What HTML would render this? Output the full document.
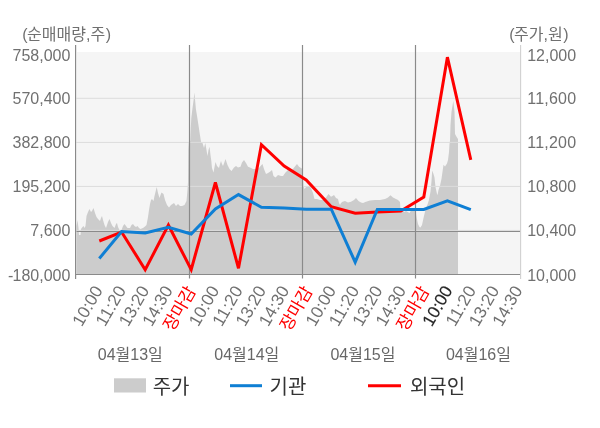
<!DOCTYPE html>
<html lang="ko"><head><meta charset="utf-8"><title>chart</title>
<style>html,body{margin:0;padding:0;background:#fff}body{width:600px;height:428px;overflow:hidden;font-family:"Liberation Sans",sans-serif}svg{display:block;will-change:transform}</style>
</head><body>
<svg width="600" height="428" viewBox="0 0 600 428" font-family="'Liberation Sans', 'Noto Sans CJK KR', sans-serif">
<rect width="600" height="428" fill="#fff"/>
<rect x="76.9" y="52" width="443.6" height="222.5" fill="#f5f5f5"/>
<path d="M76.5 274.5 L76.5 226 L77.5 220 L78.5 228 L79 235 L80.5 235 L81 229 L82.5 227 L83.5 226 L84.5 228 L85.5 226 L86.5 216 L88 212 L89.5 209 L91 212 L92 211 L93.5 208 L95 213 L96.5 217 L98 219 L100 221 L101 218 L102 216 L103 220 L104.5 225 L106 228 L108 222 L109.5 219 L111 223 L112.5 226 L114.5 228 L116 224 L117 223 L118 227 L119.5 230 L121.5 230 L123 226 L124.5 224 L126 226 L127.5 228 L130 228 L131.5 225 L133 224 L134.5 226 L136 227 L137.5 226 L139 228 L140.5 229 L143 228 L145 226.5 L146.5 225 L148 217 L149 210 L150 204 L151 200 L152 199 L153.5 201 L154.5 196 L155.5 192 L156.7 187 L158 193 L159.5 198 L160.5 195 L161.5 192.5 L163.5 194 L165 200 L167 205 L169 207.5 L171 205 L172.5 204 L174 203 L176 206 L178 204 L180 206 L182 206 L184.5 205 L186.5 201 L187.5 190 L188 182 L188.3 150 L188.8 143 L190.3 141 L190.8 128 L191.3 118 L192.4 109 L193.6 100 L194.4 92.5 L195.1 100 L195.9 109 L197.4 118.3 L198.6 126 L199.7 133.5 L200.9 141 L201.3 143 L202.5 143 L204 148 L205.3 143 L206.5 150 L207.5 156 L208.5 150 L209.5 146.7 L210.5 155 L211.2 160 L212 168 L213.5 172.5 L214.5 167 L215.5 162 L217 166 L219 168 L220 164 L221 161 L222 164 L223 166 L224.5 162 L225.5 159 L226.5 162 L227.5 165 L229.5 169 L231.5 171 L234 167.5 L236 166 L238 167.5 L240.5 166.7 L242 162.5 L244 160 L246 163 L248 166.7 L250 167.5 L253 169 L256 169 L259 168 L261 165.5 L262.5 164 L264 169 L266 174 L268 173 L270 171.7 L272 170 L273.5 176 L275.5 177.5 L278 175 L281 176 L283 176 L285.5 172.5 L288 170 L291 171 L293 169 L294.5 167 L297 164 L299 166.7 L301 168 L302.5 169 L303.5 186 L304.5 189 L306 187 L309 186 L311 188 L313 193 L314.5 199 L317 199 L320 200 L323 200 L326 197.5 L328.5 194 L331 196.7 L332.5 196 L334 195 L336 198 L338 199 L339 203 L340 205 L341 203 L342.5 201.7 L345 201 L348 202.5 L351 201.7 L354 200 L356 198 L358.5 201 L361 202.5 L363 203 L366 201.7 L370 200.5 L375 200 L380 200 L385 199 L388 197.5 L390.5 195.3 L393 197.5 L396 199 L398 200 L400 202 L400.5 210 L402 210 L404 212 L406 211 L409.5 213 L411 210.5 L413 210 L415.5 209.5 L416.5 217 L418 224 L419.5 227 L420.5 227.5 L422 225 L423.5 218 L425 211.7 L426 208 L427.5 204.4 L429 199.7 L430.5 191.5 L431.5 181 L432.2 170.5 L433.5 174 L434.5 177.5 L435.5 187 L437 194 L437.5 195 L438.5 190 L440 185.7 L441.5 178.7 L442.5 171.7 L443.5 164.7 L445 166.4 L447 163.5 L448 160 L449 152 L449.5 144 L450 141 L450.5 125 L451.5 111.7 L453.3 100.8 L454.5 111.7 L455 134 L456.5 136.7 L458 139 L458 274.5 Z" fill="#cccccc"/>
<line x1="76.5" x2="520.5" y1="98.3" y2="98.3" stroke="#dcdcdc" stroke-width="1"/>
<line x1="76.5" x2="520.5" y1="142.4" y2="142.4" stroke="#dcdcdc" stroke-width="1"/>
<line x1="76.5" x2="520.5" y1="186.4" y2="186.4" stroke="#dcdcdc" stroke-width="1"/>
<line x1="76.5" x2="520.5" y1="230.4" y2="230.4" stroke="#dcdcdc" stroke-width="1"/>
<line x1="76.5" x2="520.5" y1="231.5" y2="231.5" stroke="#8a8a8a" stroke-width="1.1"/>
<line x1="76.0" x2="520.5" y1="274.5" y2="274.5" stroke="#8a8a8a" stroke-width="1.2"/>
<line x1="189.5" x2="189.5" y1="45" y2="278.5" stroke="#8a8a8a" stroke-width="1.2"/>
<line x1="302.5" x2="302.5" y1="45" y2="278.5" stroke="#8a8a8a" stroke-width="1.2"/>
<line x1="415.5" x2="415.5" y1="45" y2="278.5" stroke="#8a8a8a" stroke-width="1.2"/>
<line x1="75.6" x2="75.6" y1="45" y2="279" stroke="#8a8a8a" stroke-width="1.2"/>
<line x1="520.6" x2="520.6" y1="45" y2="279" stroke="#d0d0d0" stroke-width="1.1"/>
<polyline points="99.3,241.0 121.6,232.0 145.2,269.7 168.4,225.1 191.2,269.6 215.4,182.5 238.5,268.3 261.4,144.7 284.2,166.0 306.2,180.0 331.3,206.7 355.2,213.3 377.3,212.0 400.8,211.0 423.8,197.0 447.4,57.2 470.8,159.8" fill="none" stroke="#ff0000" stroke-width="3" stroke-linejoin="miter" stroke-miterlimit="3.5"/>
<polyline points="99.3,258.5 121.6,231.5 145.2,233.0 168.4,227.3 191.2,234.0 215.4,209.0 238.5,194.6 261.4,207.2 284.2,208.0 306.2,209.2 331.3,209.2 355.2,262.2 377.3,209.5 400.8,209.5 423.8,209.5 447.4,200.8 470.8,209.6" fill="none" stroke="#0f7fd4" stroke-width="3" stroke-linejoin="miter" stroke-miterlimit="3.5"/>
<g font-size="16" fill="#707070" ><text x="12.57" y="61.20" textLength="57.73" lengthAdjust="spacing">758,000</text></g>
<g font-size="16" fill="#707070" ><text x="12.57" y="104.30" textLength="57.73" lengthAdjust="spacing">570,400</text></g>
<g font-size="16" fill="#707070" ><text x="12.57" y="148.40" textLength="57.73" lengthAdjust="spacing">382,800</text></g>
<g font-size="16" fill="#707070" ><text x="12.57" y="192.40" textLength="57.73" lengthAdjust="spacing">195,200</text></g>
<g font-size="16" fill="#707070" ><text x="30.33" y="236.20" textLength="39.97" lengthAdjust="spacing">7,600</text></g>
<g font-size="16" fill="#707070" ><text x="8.02" y="281.40">-</text><text x="12.57" y="281.40" textLength="57.73" lengthAdjust="spacing">180,000</text></g>
<g font-size="16" fill="#707070" ><text x="527.20" y="60.50" textLength="48.85" lengthAdjust="spacing">12,000</text></g>
<g font-size="16" fill="#707070" ><text x="527.20" y="103.70" textLength="48.85" lengthAdjust="spacing">11,600</text></g>
<g font-size="16" fill="#707070" ><text x="527.20" y="147.90" textLength="48.85" lengthAdjust="spacing">11,200</text></g>
<g font-size="16" fill="#707070" ><text x="527.20" y="192.10" textLength="48.85" lengthAdjust="spacing">10,800</text></g>
<g font-size="16" fill="#707070" ><text x="527.20" y="235.90" textLength="48.85" lengthAdjust="spacing">10,400</text></g>
<g font-size="16" fill="#707070" ><text x="527.20" y="280.70" textLength="48.85" lengthAdjust="spacing">10,000</text></g>
<g font-size="16" fill="#707070" ><text x="22.30" y="39.90">(</text><text x="27.11" y="39.90" textLength="58.88" lengthAdjust="spacing">순매매량</text><text x="85.99" y="39.90">,</text><text x="90.44" y="39.90">주</text><text x="105.76" y="39.90">)</text></g>
<g font-size="16" fill="#707070" ><text x="509.30" y="39.90">(</text><text x="514.11" y="39.90" textLength="29.44" lengthAdjust="spacing">주가</text><text x="543.55" y="39.90">,</text><text x="548.00" y="39.90">원</text><text x="563.32" y="39.90">)</text></g>
<g font-size="17.2" fill="#707070" transform="translate(103.18 290.30) rotate(-60)"><text x="-42.97" y="0.00" textLength="42.97" lengthAdjust="spacing">10:00</text></g>
<g font-size="17.2" fill="#707070" transform="translate(126.51 290.30) rotate(-60)"><text x="-42.97" y="0.00" textLength="42.97" lengthAdjust="spacing">11:20</text></g>
<g font-size="17.2" fill="#707070" transform="translate(149.84 290.30) rotate(-60)"><text x="-42.97" y="0.00" textLength="42.97" lengthAdjust="spacing">13:20</text></g>
<g font-size="17.2" fill="#707070" transform="translate(173.17 290.30) rotate(-60)"><text x="-42.97" y="0.00" textLength="42.97" lengthAdjust="spacing">14:30</text></g>
<g font-size="17.2" fill="#ff0000" transform="translate(196.50 290.80) rotate(-60)"><text x="-47.47" y="0.00" textLength="47.47" lengthAdjust="spacing">장마감</text></g>
<g font-size="17.2" fill="#707070" transform="translate(219.83 290.30) rotate(-60)"><text x="-42.97" y="0.00" textLength="42.97" lengthAdjust="spacing">10:00</text></g>
<g font-size="17.2" fill="#707070" transform="translate(243.16 290.30) rotate(-60)"><text x="-42.97" y="0.00" textLength="42.97" lengthAdjust="spacing">11:20</text></g>
<g font-size="17.2" fill="#707070" transform="translate(266.49 290.30) rotate(-60)"><text x="-42.97" y="0.00" textLength="42.97" lengthAdjust="spacing">13:20</text></g>
<g font-size="17.2" fill="#707070" transform="translate(289.82 290.30) rotate(-60)"><text x="-42.97" y="0.00" textLength="42.97" lengthAdjust="spacing">14:30</text></g>
<g font-size="17.2" fill="#ff0000" transform="translate(313.15 290.80) rotate(-60)"><text x="-47.47" y="0.00" textLength="47.47" lengthAdjust="spacing">장마감</text></g>
<g font-size="17.2" fill="#707070" transform="translate(336.48 290.30) rotate(-60)"><text x="-42.97" y="0.00" textLength="42.97" lengthAdjust="spacing">10:00</text></g>
<g font-size="17.2" fill="#707070" transform="translate(359.81 290.30) rotate(-60)"><text x="-42.97" y="0.00" textLength="42.97" lengthAdjust="spacing">11:20</text></g>
<g font-size="17.2" fill="#707070" transform="translate(383.14 290.30) rotate(-60)"><text x="-42.97" y="0.00" textLength="42.97" lengthAdjust="spacing">13:20</text></g>
<g font-size="17.2" fill="#707070" transform="translate(406.47 290.30) rotate(-60)"><text x="-42.97" y="0.00" textLength="42.97" lengthAdjust="spacing">14:30</text></g>
<g font-size="17.2" fill="#ff0000" transform="translate(429.80 290.80) rotate(-60)"><text x="-47.47" y="0.00" textLength="47.47" lengthAdjust="spacing">장마감</text></g>
<g font-size="17.2" fill="#262626" stroke="#262626" stroke-width="0.15" transform="translate(453.13 290.30) rotate(-60)"><text x="-42.97" y="0.00" textLength="42.97" lengthAdjust="spacing">10:00</text></g>
<g font-size="17.2" fill="#707070" transform="translate(476.46 290.30) rotate(-60)"><text x="-42.97" y="0.00" textLength="42.97" lengthAdjust="spacing">11:20</text></g>
<g font-size="17.2" fill="#707070" transform="translate(499.79 290.30) rotate(-60)"><text x="-42.97" y="0.00" textLength="42.97" lengthAdjust="spacing">13:20</text></g>
<g font-size="17.2" fill="#707070" transform="translate(523.12 290.30) rotate(-60)"><text x="-42.97" y="0.00" textLength="42.97" lengthAdjust="spacing">14:30</text></g>
<g font-size="16" fill="#676767" ><text x="97.80" y="360.20" textLength="17.76" lengthAdjust="spacing">04</text><text x="115.56" y="360.20">월</text><text x="130.28" y="360.20" textLength="17.76" lengthAdjust="spacing">13</text><text x="148.04" y="360.20">일</text></g>
<g font-size="16" fill="#676767" ><text x="214.30" y="360.20" textLength="17.76" lengthAdjust="spacing">04</text><text x="232.06" y="360.20">월</text><text x="246.78" y="360.20" textLength="17.76" lengthAdjust="spacing">14</text><text x="264.54" y="360.20">일</text></g>
<g font-size="16" fill="#676767" ><text x="330.50" y="360.20" textLength="17.76" lengthAdjust="spacing">04</text><text x="348.26" y="360.20">월</text><text x="362.98" y="360.20" textLength="17.76" lengthAdjust="spacing">15</text><text x="380.74" y="360.20">일</text></g>
<g font-size="16" fill="#676767" ><text x="445.90" y="360.20" textLength="17.76" lengthAdjust="spacing">04</text><text x="463.66" y="360.20">월</text><text x="478.38" y="360.20" textLength="17.76" lengthAdjust="spacing">16</text><text x="496.14" y="360.20">일</text></g>
<rect x="114" y="378.3" width="32" height="14.2" fill="#cccccc"/>
<g font-size="20" fill="#333" ><text x="152.70" y="394.00" textLength="36.80" lengthAdjust="spacing">주가</text></g>
<line x1="230" x2="262" y1="385.7" y2="385.7" stroke="#0f7fd4" stroke-width="3"/>
<g font-size="20" fill="#333" ><text x="269.60" y="394.00" textLength="36.80" lengthAdjust="spacing">기관</text></g>
<line x1="368" x2="401" y1="385.7" y2="385.7" stroke="#ff0000" stroke-width="3"/>
<g font-size="20" fill="#333" ><text x="409.90" y="394.00" textLength="55.20" lengthAdjust="spacing">외국인</text></g>
</svg>
</body></html>
